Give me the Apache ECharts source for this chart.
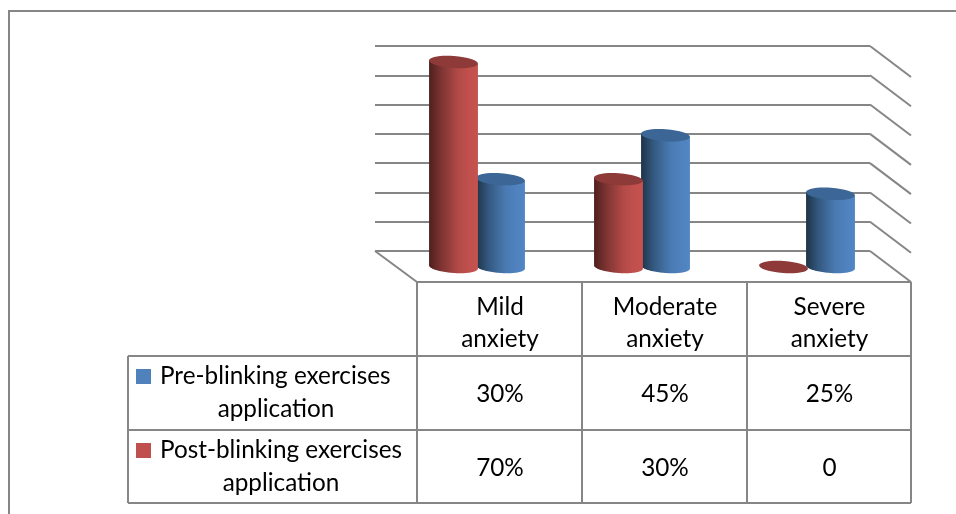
<!DOCTYPE html>
<html>
<head>
<meta charset="utf-8">
<style>html,body{margin:0;padding:0;background:#fff}#c{width:956px;height:514px}</style>
<script src="https://cdn.jsdelivr.net/npm/echarts@6/dist/echarts.min.js"></script>
</head>
<body>
<div id="c"></div>
<script>
// Anxiety levels before and after the blinking exercises
const categories = [['Mild', 'anxiety'], ['Moderate', 'anxiety'], ['Severe', 'anxiety']];
const preValues = [30, 45, 25];
const postValues = [70, 30, 0];
const preLabel = ['Pre-blinking exercises', 'application'];
const postLabel = ['Post-blinking exercises', 'application'];
const axisTicks = [0, 10, 20, 30, 40, 50, 60, 70];

const LINE = '#868686';
const TEXT = '#000000';
const FONT = 'Lato, Carlito, sans-serif';
const FONT_SIZE = 24.3;

// Projection of the chart's floor: depth runs right and down from the back wall
const DEPTH_X = 41, DEPTH_Y = 31;
const CYL_RX = 24.5, CYL_RY = 6, TILT = 0.07, FLOOR_DROP = 16;

const pal = {
  pre: { top: '#3b6696', stops: ['#1f3348', '#33587f', '#4a7ab2', '#4f81bd', '#5186c4'] },
  post: { top: '#8d3a38', stops: ['#4e1f1e', '#7d3432', '#b24a47', '#c0504d', '#c5524f'] }
};

// Point on a tilted ellipse outline at parameter t
function rimPoint(cx, cy, t) {
  const ex = CYL_RX * Math.cos(t), ey = CYL_RY * Math.sin(t);
  return [cx + ex * Math.cos(TILT) - ey * Math.sin(TILT), cy + ex * Math.sin(TILT) + ey * Math.cos(TILT)];
}

function cylinder(api, catIndex, value, shiftX, p) {
  const base = api.coord([catIndex, 0]);
  const head = api.coord([catIndex, value]);
  const cx = base[0] + shiftX;
  const by = base[1] + FLOOR_DROP;
  const ty = head[1] + FLOOR_DROP;
  const children = [];
  if (by > ty) {
    // body: the upper rim's far ends joined by the lower half of the base ellipse
    const pts = [rimPoint(cx, ty, Math.PI)];
    for (let i = 0; i <= 48; i++) {
      pts.push(rimPoint(cx, by, Math.PI - Math.PI * i / 48));
    }
    pts.push(rimPoint(cx, ty, 0));
    children.push({
      type: 'polygon',
      shape: { points: pts },
      style: {
        fill: new echarts.graphic.LinearGradient(0, 0, 1, 0, p.stops.map((c, i) => ({ offset: [0, 0.25, 0.6, 0.8, 1][i], color: c })))
      }
    });
  }
  children.push({
    type: 'ellipse',
    x: cx, y: ty, rotation: -TILT,
    shape: { cx: 0, cy: 0, rx: CYL_RX, ry: CYL_RY },
    style: { fill: p.top }
  });
  return { type: 'group', children };
}

const bandShift = { pre: 43, post: -4 };

function cylinderSeries(name, values, shift, p) {
  return {
    name, type: 'custom', coordinateSystem: 'cartesian2d', z: 5,
    data: values.map((v, i) => [i, v]),
    renderItem: (params, api) => cylinder(api, api.value(0), api.value(1), shift, p)
  };
}

// Table below the plot: rows are built from the same value arrays as the cylinders
const colX = [417, 582, 747, 911];
const rowY = [282, 356, 430, 503];
const tableLeft = 128;

const graphicEls = [];
function addLine(x1, y1, x2, y2) {
  graphicEls.push({ type: 'line', shape: { x1, y1, x2, y2 }, style: { stroke: LINE, lineWidth: 2 }, silent: true });
}
function addText(str, x, y, align) {
  graphicEls.push({
    type: 'text', x, y,
    style: { text: str, fill: TEXT, font: `${FONT_SIZE}px ${FONT}`, textAlign: align || 'center', textVerticalAlign: 'middle' }
  });
}
const fmt = v => (v === 0 ? '0' : v + '%');

// frame around the figure: top rule and left rule
addLine(9, 11, 956, 11);
addLine(9, 10, 9, 514);

rowY.forEach((y, i) => addLine(i === 0 ? colX[0] : tableLeft, y, colX[3], y));
colX.forEach(x => addLine(x, rowY[0], x, rowY[3]));
addLine(tableLeft, rowY[1], tableLeft, rowY[3]);

categories.forEach((lines, i) => {
  const cx = (colX[i] + colX[i + 1]) / 2 + 0.5;
  addText(lines[0], cx, 307);
  addText(lines[1], cx, 339);
  addText(fmt(preValues[i]), cx, 394);
  addText(fmt(postValues[i]), cx, 468);
});

graphicEls.push({ type: 'rect', shape: { x: 136, y: 369, width: 15, height: 15 }, style: { fill: '#4f81bd' } });
graphicEls.push({ type: 'rect', shape: { x: 136, y: 443, width: 15, height: 15 }, style: { fill: '#c0504d' } });
addText(preLabel[0], 160, 376, 'left');
addText(preLabel[1], 276, 409);
addText(postLabel[0], 160, 450, 'left');
addText(postLabel[1], 281, 483);

const chart = echarts.init(document.getElementById('c'), null, { renderer: 'canvas' });
chart.setOption({
  animation: false,
  backgroundColor: '#fff',
  grid: { left: 375, right: 86, top: 46, bottom: 263 },
  xAxis: {
    type: 'category',
    data: categories.map(c => c.join(' ')),
    axisLine: { show: false }, axisTick: { show: false }, axisLabel: { show: false }
  },
  yAxis: {
    type: 'value', min: 0, max: 70, interval: 10,
    axisLine: { show: false }, axisTick: { show: false }, axisLabel: { show: false },
    splitLine: { show: true, lineStyle: { color: LINE, width: 2 } }
  },
  graphic: graphicEls,
  series: [
    {
      // side wall lines and the left floor edge, one per axis tick
      name: 'walls', type: 'custom', z: 2, silent: true,
      data: axisTicks.map(v => [2, v]),
      renderItem: (params, api) => {
        const p = api.coord([api.value(0), api.value(1)]);
        const right = params.coordSys.x + params.coordSys.width;
        const left = params.coordSys.x;
        const kids = [{
          type: 'line',
          shape: { x1: right, y1: p[1], x2: right + DEPTH_X, y2: p[1] + DEPTH_Y },
          style: { stroke: LINE, lineWidth: 2 }
        }];
        if (api.value(1) === 0) {
          kids.push({
            type: 'line',
            shape: { x1: left, y1: p[1], x2: left + DEPTH_X + 1, y2: p[1] + DEPTH_Y },
            style: { stroke: LINE, lineWidth: 2 }
          });
        }
        return { type: 'group', children: kids };
      }
    },
    cylinderSeries('Pre-blinking exercises application', preValues, bandShift.pre, pal.pre),
    cylinderSeries('Post-blinking exercises application', postValues, bandShift.post, pal.post)
  ]
});
</script>
</body>
</html>
